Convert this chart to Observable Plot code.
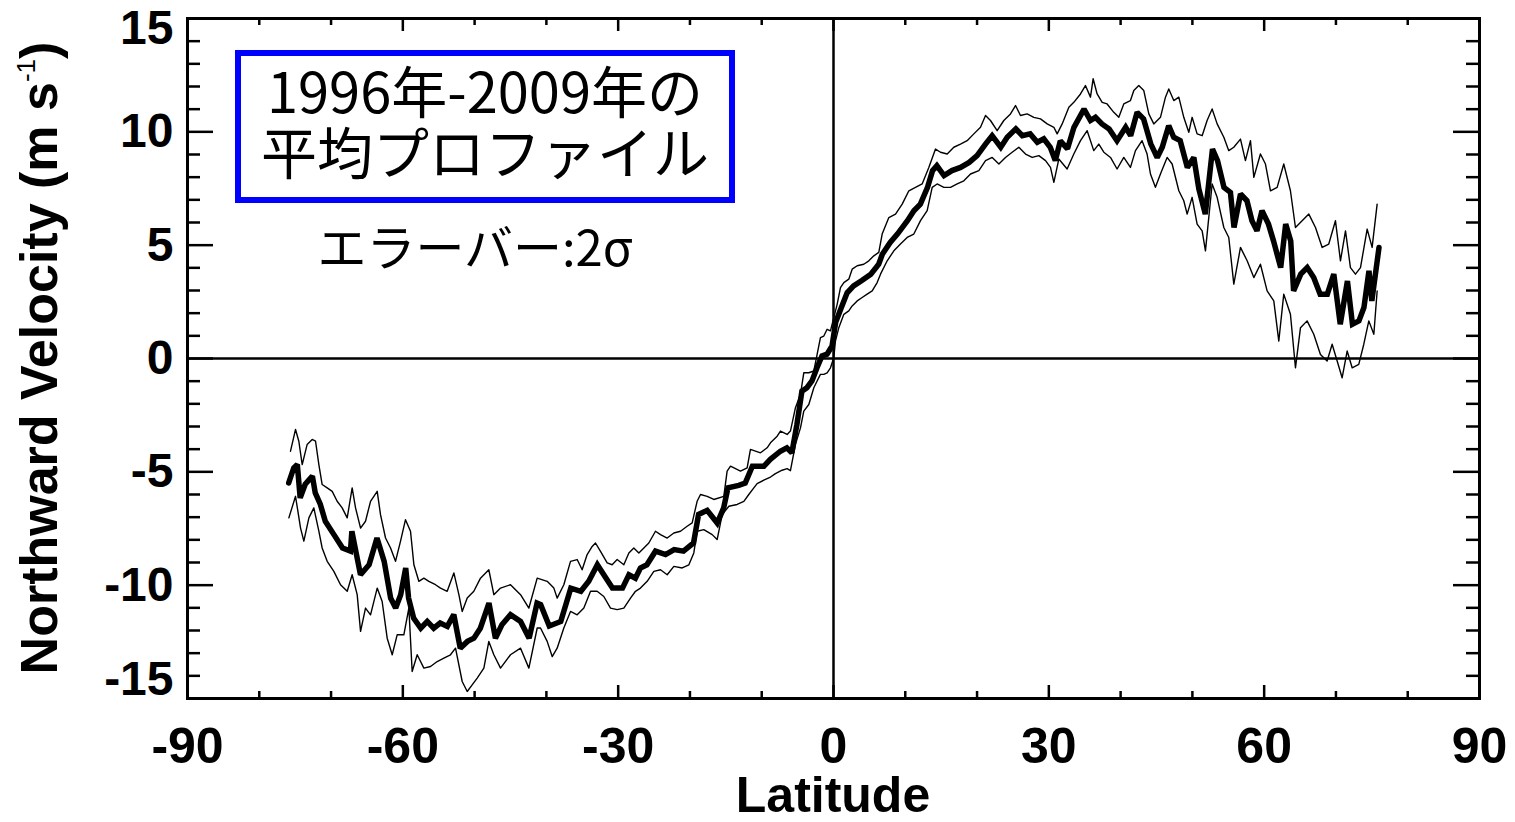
<!DOCTYPE html>
<html>
<head>
<meta charset="utf-8">
<script src="https://cdn.jsdelivr.net/npm/d3@7"></script>
<script src="https://cdn.jsdelivr.net/npm/@observablehq/plot@0.6"></script>
<style>
  body { margin: 0; background: #fff; }
  #wrap { position: relative; width: 1515px; height: 822px; overflow: hidden; background: #fff; }
  #wrap svg { position: absolute; left: 0; top: 0; }
  .note { position: absolute; font-family: "Noto Sans CJK JP", sans-serif; color: #000; white-space: nowrap; text-align: center; font-weight: 400; }
  #box { position: absolute; left: 235px; top: 50px; width: 500px; height: 153px; box-sizing: border-box; border: 6px solid #0000ff; }
</style>
</head>
<body>
<div id="wrap">
  <div id="box"></div>
  <div class="note" style="left:235px;width:500px;top:58px;font-size:56px;line-height:61px;">1996年-2009年の<br>平均プロファイル</div>
  <div class="note" style="left:235px;width:480px;top:220px;font-size:49px;line-height:49px;">エラーバー:2σ</div>
</div>
<script>
// Mean meridional (northward) flow profile, [latitude, velocity m/s]
const meanProfile = [
  [-75.9,-5.49],[-75.2,-4.83],[-74.7,-4.68],[-74.3,-6.15],[-73.6,-5.55],[-72.6,-5.19],[-72.2,-5.93],[-71.5,-6.43],
  [-70.8,-7.18],[-69.6,-7.77],[-68.4,-8.36],[-67.3,-8.5],[-67.1,-7.62],[-65.9,-9.54],[-64.7,-9.1],[-63.6,-7.92],
  [-62.6,-8.95],[-61.7,-10.57],[-61.0,-11.01],[-60.3,-10.42],[-59.6,-9.24],[-59.2,-10.57],[-58.5,-11.45],[-57.5,-11.9],
  [-56.6,-11.6],[-55.7,-11.9],[-54.8,-11.67],[-53.8,-11.82],[-52.9,-11.3],[-52.0,-12.78],[-51.0,-12.48],[-50.1,-12.34],
  [-49.2,-11.9],[-48.0,-10.79],[-47.1,-12.34],[-46.2,-11.75],[-45.0,-11.3],[-43.6,-11.6],[-42.4,-12.34],[-41.3,-10.79],
  [-40.8,-10.86],[-39.6,-11.8],[-38.0,-11.6],[-36.6,-10.13],[-35.2,-10.27],[-34.1,-9.83],[-32.9,-9.1],[-32.0,-9.54],
  [-30.8,-10.13],[-29.4,-10.13],[-28.5,-9.54],[-27.6,-9.69],[-26.9,-9.24],[-26.0,-9.1],[-24.8,-8.5],[-23.4,-8.65],
  [-22.2,-8.43],[-20.9,-8.5],[-19.5,-8.14],[-18.8,-6.88],[-17.6,-6.7],[-16.2,-7.26],[-15.3,-6.59],[-14.7,-5.7],
  [-13.2,-5.6],[-12.3,-5.5],[-11.3,-4.75],[-9.7,-4.75],[-8.8,-4.45],[-7.4,-4.09],[-6.5,-3.94],[-5.8,-4.16],
  [-5.1,-2.91],[-4.4,-1.44],[-3.7,-1.29],[-3.0,-0.99],[-2.3,-0.41],[-1.6,0.11],[-0.9,0.19],[-0.2,0.55],
  [0.3,1.6],[1.0,2.17],[1.9,2.9],[2.8,3.2],[4.0,3.45],[5.2,3.72],[6.3,4.16],[6.8,4.6],
  [7.9,5.12],[8.9,5.49],[10.3,6.08],[11.2,6.52],[12.1,6.81],[13.1,7.55],[13.8,8.29],[14.4,8.51],
  [15.4,8.07],[16.5,8.29],[17.7,8.43],[18.9,8.65],[20.0,8.95],[21.2,9.47],[22.1,9.83],[23.3,9.32],
  [24.2,9.76],[25.4,10.13],[26.3,9.83],[27.4,9.91],[28.4,9.54],[29.3,9.69],[30.2,9.32],[30.9,8.73],
  [31.6,9.6],[32.6,9.25],[33.5,10.2],[34.9,11.0],[35.8,10.5],[36.5,10.64],[37.4,10.35],[38.4,10.13],
  [39.5,9.61],[40.7,10.2],[41.4,9.83],[42.3,10.86],[43.2,10.57],[44.2,9.47],[45.1,8.87],[45.8,9.32],
  [46.7,10.27],[47.4,9.76],[48.3,9.61],[49.3,8.43],[50.2,8.87],[50.9,7.48],[51.8,6.37],[52.8,9.24],
  [53.5,8.73],[54.4,7.55],[55.3,7.33],[55.8,5.78],[56.7,7.26],[57.6,6.96],[58.3,6.08],[59.0,5.63],
  [59.7,6.52],[60.6,5.93],[61.3,5.19],[62.3,4.01],[63.0,5.93],[63.7,5.19],[64.1,2.98],[65.1,3.72],
  [66.0,4.01],[66.9,3.57],[67.8,2.84],[68.8,2.84],[69.7,3.72],[70.6,1.51],[71.6,3.42],[72.3,1.51],
  [73.2,1.66],[73.9,2.25],[74.6,3.87],[75.0,2.54],[76.0,4.9]
];

// Upper edge of the 2-sigma error band
const upperBand = [
  [-75.65,-4.09],[-74.95,-3.13],[-74.49,-3.65],[-74.02,-4.68],[-73.33,-3.79],[-72.63,-3.57],[-72.16,-3.65],[-71.7,-4.68],
  [-71.24,-5.56],[-70.54,-5.71],[-69.84,-5.86],[-69.15,-6.3],[-68.45,-6.59],[-67.75,-7.03],[-67.06,-5.71],[-66.59,-6.59],
  [-65.89,-7.48],[-65.2,-7.18],[-64.5,-6.3],[-63.57,-5.86],[-63.11,-6.89],[-62.41,-7.92],[-61.71,-8.36],[-61.02,-8.95],
  [-60.32,-8.06],[-59.63,-7.11],[-58.93,-7.62],[-58.46,-9.1],[-57.77,-9.83],[-57.07,-9.69],[-56.37,-9.83],[-55.45,-9.98],
  [-54.75,-10.13],[-53.82,-10.27],[-52.89,-9.46],[-52.19,-10.42],[-51.73,-11.16],[-51.03,-10.57],[-50.11,-10.27],[-49.18,-9.69],
  [-48.02,-9.32],[-47.32,-10.42],[-46.39,-10.13],[-45.0,-9.98],[-43.6,-10.42],[-42.44,-11.01],[-41.28,-9.69],
  [-39.89,-9.83],[-38.96,-10.13],[-38.5,-10.57],[-37.57,-9.98],[-36.64,-8.95],[-35.71,-8.87],[-35.02,-9.32],[-34.32,-8.65],
  [-33.62,-8.29],[-33.16,-8.14],[-32.46,-8.51],[-31.53,-9.02],[-30.84,-9.1],[-30.14,-8.87],[-29.21,-9.1],[-28.51,-8.58],
  [-27.82,-8.36],[-27.12,-8.58],[-26.42,-8.36],[-25.73,-8.14],[-24.8,-7.62],[-24.1,-7.77],[-23.17,-7.92],[-22.24,-7.7],
  [-21.32,-7.62],[-20.39,-7.4],[-19.69,-7.25],[-19.0,-6.3],[-18.53,-6.0],[-17.6,-6.08],[-16.67,-6.22],
  [-15.28,-6.08],[-14.82,-4.97],[-14.35,-4.75],[-12.96,-4.97],[-12.03,-4.82],[-11.57,-4.01],[-10.17,-4.16],[-9.25,-3.94],
  [-8.78,-3.72],[-7.85,-3.43],[-7.39,-3.2],[-6.46,-3.35],[-6.0,-3.2],[-5.3,-2.17],[-4.6,-1.58],[-4.14,-0.63],
  [-3.44,-0.63],[-2.74,-0.55],[-2.28,0.18],[-1.82,0.92],[-1.35,0.99],[-0.89,1.29],[-0.42,1.22],[0.04,1.8],
  [0.51,2.39],[0.97,3.13],[1.44,3.35],[2.13,3.5],[2.6,3.94],[3.3,4.09],[4.22,4.16],[4.92,4.31],[5.62,4.53],[6.31,4.68],
  [6.78,5.49],[7.71,6.22],[8.64,6.37],[9.57,6.81],[10.5,7.4],[11.42,7.55],[12.35,7.7],[13.28,8.43],
  [14.21,9.24],[14.91,9.1],[15.84,9.02],[16.76,9.32],[17.69,9.46],[18.62,9.61],[19.55,9.91],[20.48,10.2],
  [21.18,10.72],[21.87,10.5],[22.8,10.05],[23.73,10.5],[24.66,10.79],[25.36,11.16],[26.05,10.72],[26.98,10.79],
  [27.91,10.64],[28.84,10.57],[29.77,10.35],[30.7,10.2],[31.16,9.91],[31.86,10.35],[32.79,11.08],
  [33.48,11.3],[34.41,11.67],[35.1,12.04],[35.8,11.53],[36.17,12.34],[36.73,11.67],[37.43,11.3],[38.12,11.23],
  [39.05,10.86],[39.75,10.64],[40.44,11.23],[41.37,11.38],[41.84,11.82],[42.53,12.04],[43.23,11.82],[43.93,10.79],
  [44.62,10.35],[45.55,10.64],[46.25,11.53],[46.71,11.89],[47.41,11.38],[48.11,11.53],[48.8,10.64],[49.5,9.98],
  [49.96,10.64],[50.66,9.91],[51.36,9.83],[52.05,10.5],[52.75,11.01],[53.45,10.35],[54.38,9.76],[55.07,9.17],
  [55.77,9.32],[56.7,9.68],[57.39,8.73],[58.09,9.61],[58.56,7.99],[59.48,9.02],[60.18,8.58],[60.88,7.4],
  [61.81,7.55],[62.73,8.58],[63.66,7.4],[64.36,5.78],[65.29,6.08],[66.22,6.37],[67.15,5.78],[68.08,4.9],
  [69.0,5.05],[69.93,6.08],[70.63,4.31],[71.33,5.63],[72.02,4.01],[72.72,3.72],[73.42,4.01],[74.35,5.71],
  [75.04,4.9],[75.74,6.81]
];

// Lower edge of the 2-sigma error band
const lowerBand = [
  [-75.88,-7.03],[-74.95,-6.08],[-74.25,-7.48],[-73.79,-8.06],[-73.09,-7.03],[-72.4,-6.59],[-71.7,-7.62],[-71.24,-8.36],
  [-70.54,-8.95],[-69.61,-9.39],[-68.68,-9.98],[-67.75,-10.27],[-67.06,-9.54],[-66.36,-10.42],[-65.89,-12.04],[-65.2,-11.01],
  [-64.5,-11.31],[-63.57,-10.13],[-62.88,-10.72],[-62.18,-12.34],[-61.48,-13.07],[-60.79,-12.19],[-59.86,-12.19],[-59.16,-11.01],
  [-58.7,-13.81],[-58.0,-13.07],[-57.07,-13.66],[-56.14,-13.59],[-55.21,-13.37],[-54.28,-13.22],[-53.36,-13.07],[-52.66,-12.78],
  [-51.73,-14.25],[-51.03,-14.69],[-50.34,-14.4],[-49.64,-14.1],[-48.71,-13.66],[-48.02,-12.48],[-47.32,-13.07],[-46.39,-13.66],
  [-45.0,-13.07],[-43.6,-12.78],[-42.44,-13.66],[-41.28,-11.89],
  [-40.82,-11.89],[-39.89,-12.48],[-39.19,-13.15],[-38.5,-12.78],[-37.57,-11.89],[-36.64,-11.16],[-35.71,-11.31],[-34.78,-11.01],
  [-33.85,-10.27],[-32.93,-10.27],[-32.0,-10.5],[-31.07,-11.01],[-30.14,-11.08],[-29.21,-11.01],[-28.28,-10.57],[-27.59,-10.27],
  [-26.89,-10.13],[-25.96,-9.83],[-25.03,-9.39],[-24.1,-9.32],[-23.17,-9.54],[-22.24,-9.17],[-21.08,-9.24],[-20.15,-9.1],
  [-19.46,-8.58],[-19.0,-7.62],[-18.07,-7.55],[-16.9,-7.77],[-16.21,-7.99],[-15.51,-6.89],[-14.58,-6.52],[-13.42,-6.44],
  [-12.49,-6.3],[-11.8,-6.0],[-11.1,-5.71],
  [-10.64,-5.52],[-9.71,-5.37],[-8.78,-5.23],[-8.09,-5.08],[-7.16,-4.93],[-6.46,-4.86],[-6.0,-4.95],[-5.3,-3.79],
  [-4.6,-3.06],[-4.14,-2.32],[-3.44,-2.03],[-2.74,-1.29],[-2.28,-0.99],[-1.82,-0.7],[-1.35,-0.7],[-0.89,-0.63],
  [-0.42,-0.41],[0.04,0.04],[0.27,0.77],[0.74,1.36],[1.44,1.95],[2.13,2.1],[2.6,2.32],[3.3,2.54],
  [3.99,2.69],[4.69,2.84],[5.39,2.98],[6.08,3.35],
  [6.55,3.72],[7.48,4.31],[8.41,4.75],[9.33,5.05],[10.26,5.34],[11.19,5.49],[12.12,6.08],[13.05,6.52],
  [13.75,7.55],[14.44,7.7],[15.37,7.55],[16.3,7.55],[17.23,7.7],[18.16,7.84],[19.09,8.14],[20.25,8.29],
  [21.18,8.73],[22.11,8.87],[23.04,8.58],[23.96,8.87],[24.89,9.1],[25.82,9.32],[26.75,9.02],[27.68,8.87],
  [28.61,8.95],[29.54,8.73],[30.23,8.43],[30.7,7.77],[31.39,8.8],
  [32.55,8.36],[33.48,9.02],[34.41,9.61],[35.34,10.05],[36.26,9.17],[36.96,9.46],[37.66,9.1],[38.59,8.87],
  [39.51,8.36],[40.44,8.87],[41.37,8.43],[42.07,9.17],[42.99,9.61],[43.69,9.02],[44.16,8.14],[44.85,7.55],
  [45.55,8.14],[46.48,8.87],[47.18,8.58],[48.11,7.4],[48.8,6.96],[49.27,6.37],[49.96,7.11],[50.66,5.93],
  [51.36,5.63],[51.82,4.75],[52.75,7.7],[53.45,7.11],[54.38,5.78],[55.07,5.34],[55.77,3.28],[56.7,4.9],
  [57.63,4.31],[58.56,3.57],[59.48,4.16],[60.41,2.98],[61.34,2.54],[62.04,0.77],[62.73,2.84],[63.66,1.95],
  [64.36,-0.41],[65.06,1.36],[65.98,1.66],[66.91,1.07],[67.84,0.18],[68.77,-0.11],[69.47,0.63],[70.17,-0.11],
  [70.86,-0.85],[71.56,0.33],[72.26,-0.41],[73.18,-0.26],[73.88,0.63],[74.58,1.66],[75.28,1.07],[75.74,2.98]
];

// Axis ticks
const xMajorTicks = [-90, -60, -30, 0, 30, 60, 90];
const xMinorTicks = [-80, -70, -50, -40, -20, -10, 10, 20, 40, 50, 70, 80];
const yInnerLabels = [-10, -5, 0, 5, 10];
const yMajorTicks = [-15, -10, -5, 0, 5, 10, 15];
const yMinorTicks = d3.range(-14, 15).filter(v => v % 5 !== 0);

const W = 1515, H = 822;
const mL = 187, mR = 36, mT = 18, mB = 124;
const plotW = W - mL - mR, plotH = H - mT - mB;
const font = "'Liberation Sans', Arial, Helvetica, sans-serif";
const tickW = 2.5;

const chart = Plot.plot({
  width: W,
  height: H,
  marginLeft: mL,
  marginRight: mR,
  marginTop: mT,
  marginBottom: mB,
  style: { fontFamily: font, fontWeight: "bold", background: "transparent", color: "#000", overflow: "visible" },
  x: { domain: [-90, 90], axis: null },
  y: { domain: [-15, 15], axis: null },
  marks: [
    // zero reference lines
    Plot.ruleY([0], { stroke: "#000", strokeWidth: 2.5 }),
    Plot.ruleX([0], { stroke: "#000", strokeWidth: 2.5 }),
    // error band edges and mean profile
    Plot.line(upperBand, { x: d => d[0], y: d => d[1], stroke: "#000", strokeWidth: 1.4 }),
    Plot.line(lowerBand, { x: d => d[0], y: d => d[1], stroke: "#000", strokeWidth: 1.4 }),
    Plot.line(meanProfile, { x: d => d[0], y: d => d[1], stroke: "#000", strokeWidth: 5.5, strokeLinejoin: "miter", strokeMiterlimit: 2 }),
    // inward ticks on all four sides
    Plot.tickX(xMajorTicks, { x: d => d, insetTop: plotH - 13, strokeWidth: tickW }),
    Plot.tickX(xMajorTicks, { x: d => d, insetBottom: plotH - 13, strokeWidth: tickW }),
    Plot.tickX(xMinorTicks, { x: d => d, insetTop: plotH - 7, strokeWidth: tickW }),
    Plot.tickX(xMinorTicks, { x: d => d, insetBottom: plotH - 7, strokeWidth: tickW }),
    Plot.tickY(yMajorTicks, { y: d => d, insetRight: plotW - 26, strokeWidth: tickW }),
    Plot.tickY(yMajorTicks, { y: d => d, insetLeft: plotW - 26, strokeWidth: tickW }),
    Plot.tickY(yMinorTicks, { y: d => d, insetRight: plotW - 13, strokeWidth: tickW }),
    Plot.tickY(yMinorTicks, { y: d => d, insetLeft: plotW - 13, strokeWidth: tickW }),
    Plot.frame({ stroke: "#000", strokeWidth: 3 }),
    // tick labels
    Plot.axisX({ ticks: xMajorTicks, tickSize: 0, tickPadding: 29, fontSize: 50, fontWeight: "bold", tickFormat: d => String(d), label: null }),
    Plot.axisY({ ticks: yInnerLabels, tickSize: 0, tickPadding: 14, fontSize: 48, fontWeight: "bold", tickFormat: d => String(d), label: null }),
    Plot.axisY({ ticks: [15], tickSize: 0, tickPadding: 14, dy: 10, fontSize: 48, fontWeight: "bold", tickFormat: d => String(d), label: null }),
    Plot.axisY({ ticks: [-15], tickSize: 0, tickPadding: 14, dy: -19, fontSize: 48, fontWeight: "bold", tickFormat: d => String(d), label: null })
  ]
});

const svg = d3.select(chart);
// x-axis title
svg.append("text")
  .attr("x", mL + plotW / 2)
  .attr("y", 812)
  .attr("text-anchor", "middle")
  .attr("font-family", font)
  .attr("font-weight", "bold")
  .attr("font-size", 50)
  .attr("fill", "#000")
  .text("Latitude");

// y-axis title with superscript unit
const yTitle = svg.append("text")
  .attr("transform", `translate(57, ${mT + plotH / 2}) rotate(-90)`)
  .attr("text-anchor", "middle")
  .attr("font-family", font)
  .attr("font-weight", "bold")
  .attr("font-size", 52)
  .attr("fill", "#000");
yTitle.append("tspan").text("Northward Velocity (m s");
yTitle.append("tspan").attr("font-size", 26).attr("dy", -22).attr("font-weight", "normal").text("-1");
yTitle.append("tspan").attr("dy", 22).text(")");

document.getElementById("wrap").prepend(chart);
</script>
</body>
</html>
